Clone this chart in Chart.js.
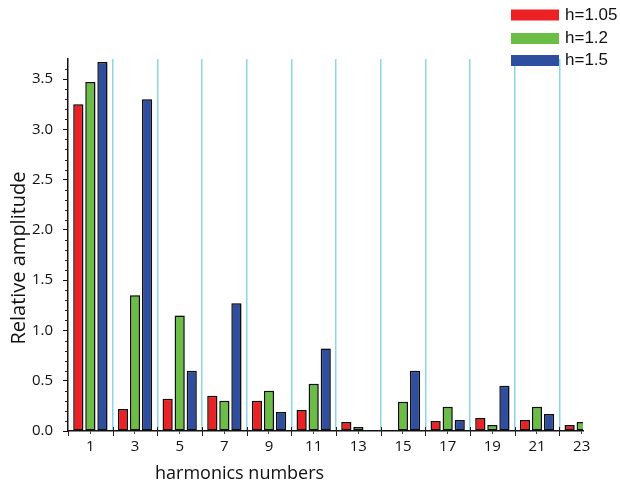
<!DOCTYPE html>
<html>
<head>
<meta charset="utf-8">
<script src="https://cdn.jsdelivr.net/npm/chart.js@4/dist/chart.umd.min.js"></script>
<style>
  html, body { margin: 0; padding: 0; background: #fff; }
  #wrap { width: 620px; height: 487px; }
</style>
</head>
<body>
<div id="wrap"><canvas id="harmonicsChart"></canvas></div>
<script>
// harmonic orders on the x axis
const harmonics = [1, 3, 5, 7, 9, 11, 13, 15, 17, 19, 21, 23];
// category borders (cyan lines)
const borders = [2, 4, 6, 8, 10, 12, 14, 16, 18, 20, 22];
const yTicks = [0, 0.5, 1, 1.5, 2, 2.5, 3, 3.5];

// relative amplitudes
const h105 = [3.25, 0.22, 0.32, 0.35, 0.30, 0.21, 0.09, 0.01, 0.10, 0.13, 0.11, 0.06];
const h12  = [3.47, 1.35, 1.15, 0.30, 0.40, 0.47, 0.04, 0.29, 0.24, 0.06, 0.24, 0.09];
const h15  = [3.67, 3.30, 0.60, 1.27, 0.19, 0.82, 0.00, 0.60, 0.11, 0.45, 0.17, 0.00];

const seriesLabels = ['h=1.05', 'h=1.2', 'h=1.5'];
const seriesColors = ['#ed2024', '#6cbd45', '#2f4e9f'];

const tickFont = { family: 'Open Sans', size: 15 };

// soft grey halo round the bars, like the original
const barShadow = {
  id: 'barShadow',
  beforeDatasetsDraw(chart) {
    const ctx = chart.ctx;
    ctx.save();
    ctx.shadowColor = 'rgba(0,0,0,0.35)';
    ctx.shadowBlur = 2;
    ctx.shadowOffsetX = 1;
    ctx.shadowOffsetY = 0;
  },
  afterDatasetsDraw(chart) {
    chart.ctx.restore();
  }
};

// minor ticks, legend and axis titles
const decor = {
  id: 'decor',
  afterDraw(chart) {
    const { ctx, scales: { x, y } } = chart;
    ctx.save();
    ctx.strokeStyle = '#222';
    ctx.lineWidth = 1;
    ctx.beginPath();
    for (let i = 1; i <= 36; i++) {
      if (i % 5 === 0) continue;
      const py = Math.round(y.getPixelForValue(i / 10)) + 0.5;
      ctx.moveTo(x.left - 3, py);
      ctx.lineTo(x.left, py);
    }
    borders.forEach(v => {
      const px = Math.round(x.getPixelForValue(v)) + 0.5;
      ctx.moveTo(px, y.bottom - 4);
      ctx.lineTo(px, y.bottom + 5);
    });
    ctx.moveTo(x.left + 0.5, y.bottom);
    ctx.lineTo(x.left + 0.5, y.bottom + 5);
    ctx.stroke();

    // legend
    const rows = [15, 38.5, 60.5];
    ctx.font = '17px "Liberation Sans", Arial, sans-serif';
    ctx.textBaseline = 'middle';
    chart.data.datasets.forEach((ds, i) => {
      ctx.fillStyle = ds.backgroundColor;
      ctx.fillRect(511, rows[i] - 5.5, 48, 11);
      ctx.fillStyle = '#111';
      ctx.fillText(ds.label, 565, rows[i]);
    });

    // axis titles
    ctx.font = '18px "Open Sans", sans-serif';
    ctx.fillText('harmonics numbers', 155, 474);
    ctx.font = '20px "Open Sans", sans-serif';
    ctx.translate(19, 258);
    ctx.rotate(-Math.PI / 2);
    ctx.textAlign = 'center';
    ctx.fillText('Relative amplitude', 0, 0);
    ctx.restore();
  }
};

new Chart(document.getElementById('harmonicsChart'), {
  type: 'bar',
  data: {
    labels: harmonics,
    datasets: [
      { label: seriesLabels[0], data: h105, backgroundColor: seriesColors[0] },
      { label: seriesLabels[1], data: h12, backgroundColor: seriesColors[1] },
      { label: seriesLabels[2], data: h15, backgroundColor: seriesColors[2] }
    ]
  },
  options: {
    responsive: true,
    maintainAspectRatio: false,
    animation: false,
    layout: { padding: { top: 59, right: 37, left: 0, bottom: 0 } },
    datasets: {
      bar: {
        borderColor: '#111',
        borderWidth: 1.5,
        borderSkipped: false,
        categoryPercentage: 0.81,
        barPercentage: 0.84,
        clip: 0
      }
    },
    plugins: {
      legend: { display: false },
      tooltip: { enabled: false }
    },
    scales: {
      x: {
        type: 'linear',
        offset: false,
        min: 0,
        max: 23.06,
        afterBuildTicks: s => { s.ticks = harmonics.map(v => ({ value: v })); },
        afterFit: s => { s.height = 56; },
        grid: { offset: false, drawOnChartArea: false, tickLength: 3, tickColor: '#444' },
        border: { color: '#111', width: 1.5 },
        ticks: { autoSkip: false, maxRotation: 0, padding: 4, color: '#111', font: tickFont }
      },
      xb: {
        type: 'linear',
        position: 'bottom',
        offset: false,
        min: 0,
        max: 23.06,
        afterBuildTicks: s => { s.ticks = borders.map(v => ({ value: v })); },
        afterFit: s => { s.height = 0; },
        grid: { offset: false, color: '#8dd6e4', lineWidth: 1.5, drawTicks: false },
        border: { display: false },
        ticks: { display: false }
      },
      y: {
        min: 0,
        max: 3.7,
        afterBuildTicks: s => { s.ticks = yTicks.map(v => ({ value: v })); },
        afterFit: s => { s.width = 68; },
        grid: { drawOnChartArea: false, tickLength: 5, tickColor: '#111' },
        border: { color: '#111', width: 1.5 },
        ticks: { padding: 10, color: '#111', font: tickFont, callback: v => v.toFixed(1) }
      }
    }
  },
  plugins: [barShadow, decor]
});
</script>
</body>
</html>
